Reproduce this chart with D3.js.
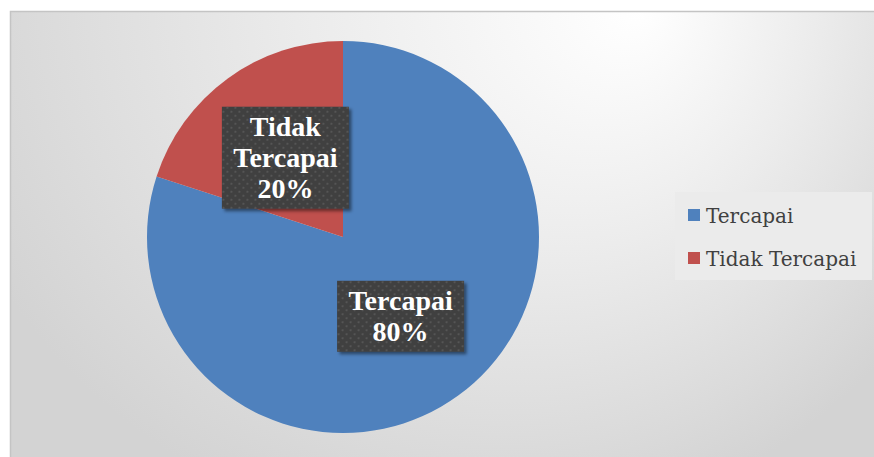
<!DOCTYPE html>
<html><head><meta charset="utf-8">
<script src="https://cdn.jsdelivr.net/npm/d3@7"></script>
<style>html,body{margin:0;padding:0;background:#fff;}svg{display:block;}</style>
</head><body>
<script>
const categories = ["Tercapai", "Tidak Tercapai"];
const values = [80, 20];
const labelLines = [["Tercapai", "80%"], ["Tidak", "Tercapai", "20%"]];
const colors = ["#4F81BD", "#C0504D"];

const W = 874, H = 457;
const svg = d3.select("body").append("svg").attr("width", W).attr("height", H);
const defs = svg.append("defs");

const bg = defs.append("radialGradient").attr("id", "bg")
  .attr("gradientUnits", "userSpaceOnUse")
  .attr("cx", 470).attr("cy", -20).attr("r", 560)
  .attr("fx", 640).attr("fy", 10);
bg.append("stop").attr("offset", 0).attr("stop-color", "#ffffff");
bg.append("stop").attr("offset", 0.45).attr("stop-color", "#ececec");
bg.append("stop").attr("offset", 1).attr("stop-color", "#d3d3d3");

const pat = defs.append("pattern").attr("id", "dots")
  .attr("patternUnits", "userSpaceOnUse").attr("width", 8).attr("height", 8);
pat.append("rect").attr("width", 8).attr("height", 8).attr("fill", "#3f3f3f");
pat.append("rect").attr("x", 1).attr("y", 1).attr("width", 2).attr("height", 2).attr("fill", "#555555");
pat.append("rect").attr("x", 5).attr("y", 5).attr("width", 2).attr("height", 2).attr("fill", "#555555");

const sh = defs.append("filter").attr("id", "shadow").attr("x", "-20%").attr("y", "-20%").attr("width", "150%").attr("height", "150%");
sh.append("feDropShadow").attr("dx", 2.5).attr("dy", 2.5).attr("stdDeviation", 1.8)
  .attr("flood-color", "#000").attr("flood-opacity", 0.45);

// chart area
svg.append("rect").attr("x", 10.5).attr("y", 11.5).attr("width", W).attr("height", H)
  .attr("fill", "url(#bg)").attr("stroke", "#c4c4c4").attr("stroke-width", 1.5);

const cx = 343, cy = 237, r = 196;
const pie = d3.pie().sort(null).value(d => d)(values);
const arc = d3.arc().innerRadius(0).outerRadius(r);
const g = svg.append("g").attr("transform", `translate(${cx},${cy})`);
g.selectAll("path.slice").data(pie).join("path").attr("class", "slice")
  .attr("d", arc).attr("fill", (d, i) => colors[i]);

// labels
const lineH = 31;
pie.forEach((d, i) => {
  const [lx, ly] = arc.centroid(d);
  const lines = labelLines[i];
  const lg = g.append("g").attr("transform", `translate(${lx},${ly})`);
  const bw = 127, bh = lines.length === 3 ? 102 : 71;
  lg.append("rect").attr("x", -bw / 2).attr("y", -bh / 2).attr("width", bw).attr("height", bh)
    .attr("fill", "url(#dots)").attr("filter", "url(#shadow)");
  const t = lg.append("text").attr("text-anchor", "middle")
    .attr("font-family", "'Liberation Serif', serif").attr("font-weight", "bold")
    .attr("font-size", 28).attr("fill", "#ffffff");
  const startY = -(lines.length - 1) * lineH / 2 + 9;
  lines.forEach((s, j) => t.append("tspan").attr("x", 0).attr("y", startY + j * lineH).text(s));
});

// legend
const leg = svg.append("g");
leg.append("rect").attr("x", 675).attr("y", 192).attr("width", 197).attr("height", 88).attr("fill", "#ebebeb");
const ly = d3.scalePoint().domain(categories).range([215.5, 258.5]);
categories.forEach((c, i) => {
  leg.append("rect").attr("x", 688).attr("y", ly(c) - 6.5).attr("width", 12).attr("height", 12).attr("fill", colors[i]);
  leg.append("text").attr("x", 706).attr("y", ly(c) + 7)
    .attr("font-family", "'DejaVu Serif', serif").attr("font-size", 20).attr("fill", "#404040").text(c);
});
</script>
</body></html>
